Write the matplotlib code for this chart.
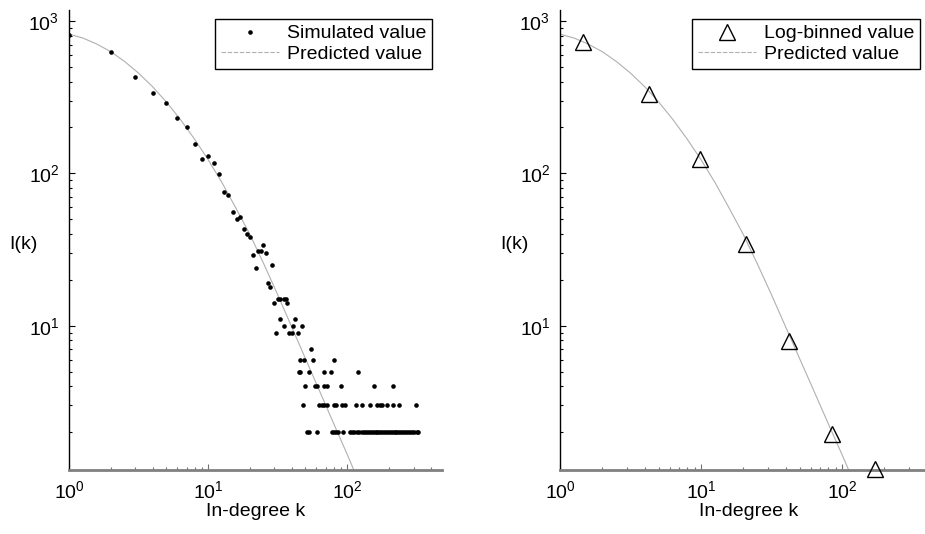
import math
import matplotlib
matplotlib.use('Agg')
import matplotlib.pyplot as plt
from matplotlib.lines import Line2D
from matplotlib.ticker import LogLocator, FuncFormatter, NullFormatter

plt.rcParams['font.family'] = ['Liberation Sans', 'DejaVu Sans']
plt.rcParams['font.size'] = 14

# simulated I(k), upper part of the left panel
top_k = [1, 2, 3, 4, 5, 6, 7, 8, 9, 10, 11, 12, 13, 14, 15, 16, 17, 18, 19, 20,
         21, 22, 23, 24, 25, 26, 27, 28, 29, 30,
         31, 32, 33, 33, 35, 35, 36, 37, 38, 40,
         41, 42, 44, 47]
top_i = [810, 624, 430, 336, 289, 232, 200, 155, 124, 129, 117, 99, 75, 72, 56, 50, 52, 43, 40, 38,
         29, 24, 31, 31, 34, 30, 19, 18, 25, 14,
         9, 15, 11, 15, 10, 15, 15, 14, 9, 9,
         10, 11, 9, 10]

# simulated I(k), low integer levels: k values found at each level
k_at_7 = [55]
k_at_6 = [46, 49, 57, 81]
k_at_5 = [45, 46, 53, 68, 77, 119]
k_at_4 = [50, 59, 61, 68, 71, 90, 156, 213]
k_at_3 = [48, 63, 66, 68, 72, 81, 83, 92, 96, 115, 128, 145, 165, 173, 179, 193, 213, 234, 312]
k_at_2 = [51, 53, 61, 78, 81, 83, 86, 94, 105, 109, 112, 118, 122, 127, 132, 137, 141,
          146, 150, 155, 160, 165, 170, 175, 181, 187, 193, 199, 205, 212, 219, 226, 233,
          241, 249, 258, 266, 275, 284, 294, 304, 316, 324]

# log-binned values (right panel)
bin_k = [1.46, 4.28, 9.8, 20.9, 42, 85, 171]
bin_i = [733, 331, 124, 34.4, 7.97, 1.94, 1.15]

# predicted curve
pred_k = [1, 1.26, 1.58, 2.0, 2.51, 3.16, 3.98, 5.01, 6.31, 7.94, 10, 12.6, 15.8,
          20, 25.1, 31.6, 39.8, 50.1, 63.1, 79.4, 100, 112]
pred_i = [820, 772, 706, 628, 542, 455, 371, 294, 226, 169, 123, 86.7, 59.4,
          39.6, 25.5, 16.0, 9.86, 6.08, 3.75, 2.31, 1.43, 1.12]

levels = {7: k_at_7, 6: k_at_6, 5: k_at_5, 4: k_at_4, 3: k_at_3, 2: k_at_2}
sim_k = list(top_k)
sim_i = list(top_i)
for lvl, ks in levels.items():
    sim_k += ks
    sim_i += [lvl] * len(ks)

line_color = '#b0b0b0'

fig = plt.figure(figsize=(9.25, 5.34), dpi=100)
ax1 = fig.add_axes([69 / 925, 64 / 534, 373 / 925, 460 / 534])
# right panel runs past the figure edge, as in the original
ax2 = fig.add_axes([560 / 925, 64 / 534, 378 / 925, 460 / 534])

ax1.plot(sim_k, sim_i, 'o', color='black', ms=3.3, mec='none', zorder=3)
ax1.plot(pred_k, pred_i, '-', color=line_color, lw=0.8, zorder=2)

ax2.plot(bin_k, bin_i, '^', mfc='none', mec='black', ms=11.5, mew=1.0, zorder=3, clip_on=False)
ax2.plot(pred_k, pred_i, '-', color=line_color, lw=0.8, zorder=2)

pred_handle = Line2D([], [], color=line_color, lw=0.8, ls=(0, (4, 1.5)))
legends = [
    (ax1, Line2D([], [], ls='none', marker='o', color='black', ms=3.3, mec='none'),
     'Simulated value', 432.3),
    (ax2, Line2D([], [], ls='none', marker='^', mfc='none', mec='black', ms=11),
     'Log-binned value', 920),
]

fmt = FuncFormatter(lambda v, p: r'$\mathregular{10^{%d}}$' % round(math.log10(v)))

for ax, handle, label, right in legends:
    ax.set_xscale('log')
    ax.set_yscale('log')
    ax.set_xlim(1, 480)
    ax.set_ylim(1.13, 1180)
    ax.xaxis.set_major_locator(LogLocator(base=10, numticks=10))
    ax.yaxis.set_major_locator(LogLocator(base=10, numticks=10))
    ax.xaxis.set_major_formatter(fmt)
    ax.yaxis.set_major_formatter(fmt)
    ax.xaxis.set_minor_formatter(NullFormatter())
    ax.yaxis.set_minor_formatter(NullFormatter())
    for s in ('top', 'right'):
        ax.spines[s].set_visible(False)
    ax.spines['left'].set_color('black')
    ax.spines['left'].set_linewidth(1.0)
    ax.spines['bottom'].set_color('#808080')
    ax.spines['bottom'].set_linewidth(2.0)
    ax.tick_params(axis='both', which='both', direction='in', labelsize=14)
    ax.tick_params(axis='both', which='major', length=4, width=0.8, pad=7)
    ax.tick_params(axis='both', which='minor', length=2.5, width=0.8)
    ax.tick_params(axis='x', which='both', color='#707070')
    ax.set_xlabel('In-degree k', fontsize=14, labelpad=1)
    ax.set_ylabel('I(k)', fontsize=14, rotation=0, ha='center', va='center')
    ax.yaxis.set_label_coords(-0.121, 0.49)
    leg = ax.legend([handle, pred_handle], [label, 'Predicted value'],
                    loc='upper right', bbox_to_anchor=(right / 925, 1 - 19 / 534),
                    bbox_transform=fig.transFigure, borderaxespad=0,
                    fancybox=False, framealpha=1, edgecolor='black',
                    handlelength=3.0, handletextpad=0.4, labelspacing=0.15,
                    borderpad=0.3, fontsize=14)
    leg.get_frame().set_linewidth(1.0)

fig.savefig('out.png', dpi=100)
